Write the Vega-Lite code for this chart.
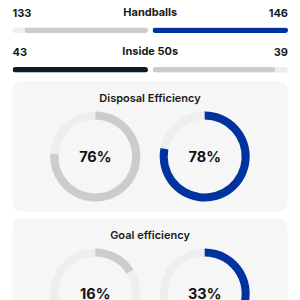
{
  "$schema": "https://vega.github.io/schema/vega-lite/v6.json",
  "background": "white",
  "padding": {"left": 12.5, "right": 0, "top": 6.5, "bottom": 0},
  "config": {
    "view": {"stroke": null},
    "font": "Inter",
    "title": {"font": "Inter", "fontSize": 11, "fontWeight": 700, "color": "#1a1a1a", "baseline": "alphabetic"}
  },
  "spacing": 9,
  "vconcat": [
    {
      "spacing": 12.5,
      "vconcat": [
        {
          "title": {"text": "Handballs", "anchor": "middle", "offset": -10},
          "data": {"values": [{"side": "home", "value": 133}, {"side": "away", "value": 146}]},
          "spacing": 4,
          "hconcat": [
            {
              "width": 135.5, "height": 5.5,
              "view": {"fill": "#eeeeee", "cornerRadius": 3},
              "title": {"text": "133", "anchor": "start", "offset": 9},
              "transform": [{"filter": "datum.side === 'home'"}],
              "mark": {"type": "bar", "cornerRadius": 3, "color": "#cccccc"},
              "encoding": {
                "x": {"field": "value", "type": "quantitative", "scale": {"domain": [0, 146], "reverse": true}, "axis": null},
                "y": {"field": "side", "type": "nominal", "axis": null, "scale": {"paddingInner": 0, "paddingOuter": 0}}
              }
            },
            {
              "width": 135.5, "height": 5.5,
              "view": {"fill": "#eeeeee", "cornerRadius": 3},
              "title": {"text": "146", "anchor": "end", "offset": 9},
              "transform": [{"filter": "datum.side === 'away'"}],
              "mark": {"type": "bar", "cornerRadius": 3, "color": "#0033a0"},
              "encoding": {
                "x": {"field": "value", "type": "quantitative", "scale": {"domain": [0, 146]}, "axis": null},
                "y": {"field": "side", "type": "nominal", "axis": null, "scale": {"paddingInner": 0, "paddingOuter": 0}}
              }
            }
          ]
        },
        {
          "title": {"text": "Inside 50s", "anchor": "middle", "offset": -10},
          "data": {"values": [{"side": "home", "value": 43}, {"side": "away", "value": 39}]},
          "spacing": 4,
          "hconcat": [
            {
              "width": 135.5, "height": 5.5,
              "view": {"fill": "#eeeeee", "cornerRadius": 3},
              "title": {"text": "43", "anchor": "start", "offset": 9},
              "transform": [{"filter": "datum.side === 'home'"}],
              "mark": {"type": "bar", "cornerRadius": 3, "color": "#0d1b2a"},
              "encoding": {
                "x": {"field": "value", "type": "quantitative", "scale": {"domain": [0, 43], "reverse": true}, "axis": null},
                "y": {"field": "side", "type": "nominal", "axis": null, "scale": {"paddingInner": 0, "paddingOuter": 0}}
              }
            },
            {
              "width": 135.5, "height": 5.5,
              "view": {"fill": "#eeeeee", "cornerRadius": 3},
              "title": {"text": "39", "anchor": "end", "offset": 9},
              "transform": [{"filter": "datum.side === 'away'"}],
              "mark": {"type": "bar", "cornerRadius": 3, "color": "#cccccc"},
              "encoding": {
                "x": {"field": "value", "type": "quantitative", "scale": {"domain": [0, 43]}, "axis": null},
                "y": {"field": "side", "type": "nominal", "axis": null, "scale": {"paddingInner": 0, "paddingOuter": 0}}
              }
            }
          ]
        }
      ]
    },
    {
      "spacing": 7,
      "vconcat": [
        {
          "width": 275, "height": 130,
          "view": {"fill": "#f6f6f6", "cornerRadius": 8},
          "title": {"text": "Disposal Efficiency", "anchor": "middle", "offset": -22, "fontWeight": 600},
          "data": {"values": [{"team": "home", "pct": 0.76}, {"team": "away", "pct": 0.78}]},
          "encoding": {
            "x": {"field": "team", "type": "nominal", "sort": ["home", "away"], "scale": {"type": "point", "padding": 0.757}, "axis": null}
          },
          "layer": [
            {
              "mark": {"type": "arc", "radius": 45, "radius2": 37, "theta": 0, "theta2": 6.2832, "color": "#eeeeee", "yOffset": 10}
            },
            {
              "mark": {"type": "arc", "radius": 45, "radius2": 37, "yOffset": 10},
              "encoding": {
                "theta": {"field": "pct", "type": "quantitative", "stack": null, "scale": {"domain": [0, 1], "range": [0, 6.2832]}},
                "theta2": {"datum": 0},
                "color": {"field": "team", "type": "nominal", "scale": {"domain": ["home", "away"], "range": ["#cccccc", "#0033a0"]}, "legend": null}
              }
            },
            {
              "mark": {"type": "text", "fontSize": 14.5, "fontWeight": 700, "color": "#111111", "baseline": "middle", "yOffset": 11},
              "encoding": {"text": {"field": "pct", "type": "quantitative", "format": ".0%"}}
            }
          ]
        },
        {
          "width": 275, "height": 130,
          "view": {"fill": "#f6f6f6", "cornerRadius": 8},
          "title": {"text": "Goal efficiency", "anchor": "middle", "offset": -22, "fontWeight": 600},
          "data": {"values": [{"team": "home", "pct": 0.16}, {"team": "away", "pct": 0.33}]},
          "encoding": {
            "x": {"field": "team", "type": "nominal", "sort": ["home", "away"], "scale": {"type": "point", "padding": 0.757}, "axis": null}
          },
          "layer": [
            {
              "mark": {"type": "arc", "radius": 45, "radius2": 37, "theta": 0, "theta2": 6.2832, "color": "#eeeeee", "yOffset": 10}
            },
            {
              "mark": {"type": "arc", "radius": 45, "radius2": 37, "yOffset": 10},
              "encoding": {
                "theta": {"field": "pct", "type": "quantitative", "stack": null, "scale": {"domain": [0, 1], "range": [0, 6.2832]}},
                "theta2": {"datum": 0},
                "color": {"field": "team", "type": "nominal", "scale": {"domain": ["home", "away"], "range": ["#cccccc", "#0033a0"]}, "legend": null}
              }
            },
            {
              "mark": {"type": "text", "fontSize": 14.5, "fontWeight": 700, "color": "#111111", "baseline": "middle", "yOffset": 11},
              "encoding": {"text": {"field": "pct", "type": "quantitative", "format": ".0%"}}
            }
          ]
        }
      ]
    }
  ]
}
